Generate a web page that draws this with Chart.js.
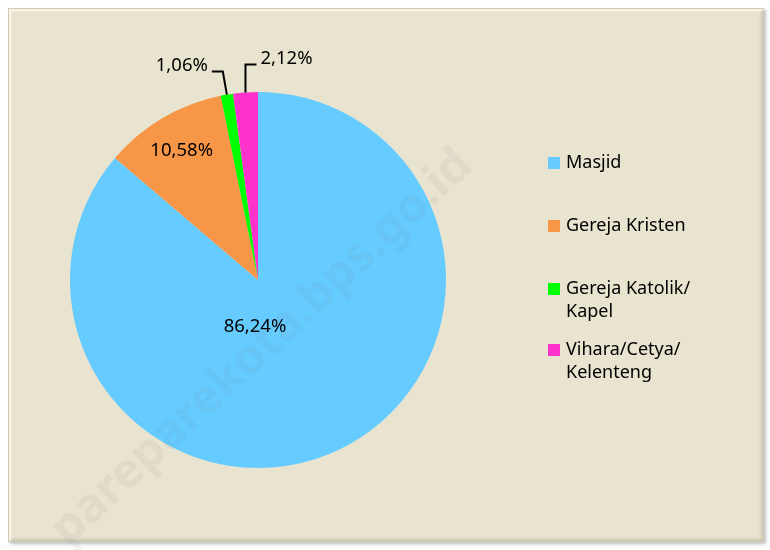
<!DOCTYPE html>
<html>
<head>
<meta charset="utf-8">
<script src="https://cdn.jsdelivr.net/npm/chart.js@4.4.1/dist/chart.umd.min.js"></script>
<style>
    html, body { margin: 0; padding: 0; background: #ffffff; }
    #wrap { position: relative; width: 770px; height: 550px; }
    #frame {
        position: absolute; left: 8px; top: 8px; width: 754px; height: 532px;
        background: #E9E4D0;
        border: 1px solid #cfcab6;
        box-shadow: inset 2px 2px 2px #fbf8ea, inset -2px -2px 3px #c9c5b2, 2px 2px 3px rgba(0,0,0,0.25);
    }
    #chart { position: absolute; left: 0; top: 0; }
</style>
</head>
<body>
<div id="wrap">
    <div id="frame"></div>
    <canvas id="chart" width="770" height="550"></canvas>
</div>
<script>
// Data
const categories = ["Masjid", "Gereja Kristen", "Gereja Katolik/\nKapel", "Vihara/Cetya/\nKelenteng"];
const shares = [86.24, 10.58, 1.06, 2.12];
const colors = ["#66CCFF", "#F79646", "#00FF00", "#FF33CC"];

const FONT = "'Noto Sans', 'DejaVu Sans', sans-serif";

function fmt(v) {
    return v.toFixed(2).replace(".", ",") + "%";
}

// Watermark over the chart, very faint
const watermark = {
    id: "watermark",
    afterDraw(chart) {
        const ctx = chart.ctx;
        ctx.save();
        ctx.translate(262, 348);
        ctx.rotate(-43 * Math.PI / 180);
        ctx.font = "bold 48px " + FONT;
        ctx.fillStyle = "rgba(120,120,120,0.07)";
        ctx.textAlign = "center";
        ctx.textBaseline = "middle";
        ctx.fillText("pareparekota.bps.go.id", 0, 0);
        ctx.restore();
    }
};

// Percentage labels, small slices get a leader line
const sliceLabels = {
    id: "sliceLabels",
    afterDatasetsDraw(chart) {
        const ctx = chart.ctx;
        const meta = chart.getDatasetMeta(0);
        ctx.save();
        ctx.font = "18.5px " + FONT;
        ctx.fillStyle = "#000";
        ctx.textBaseline = "middle";
        meta.data.forEach((arc, i) => {
            const p = arc.getProps(["x", "y", "startAngle", "endAngle", "outerRadius"], true);
            const mid = (p.startAngle + p.endAngle) / 2;
            const txt = fmt(shares[i]);
            if (i === 0) {
                ctx.textAlign = "center";
                ctx.fillText(txt, p.x - 3, p.y + 47);
            } else if (i === 1) {
                const r = p.outerRadius * 0.8;
                ctx.textAlign = "center";
                ctx.fillText(txt, p.x + Math.cos(mid) * r, p.y + Math.sin(mid) * r);
            } else {
                const ex = p.x + Math.cos(mid) * p.outerRadius;
                const ey = p.y + Math.sin(mid) * p.outerRadius;
                const dir = i === 2 ? -1 : 1;
                const kx = ex + (i === 2 ? -4 : 0);
                const ky = ey - (i === 2 ? 23 : 28);
                ctx.strokeStyle = "#000";
                ctx.lineWidth = 2;
                ctx.beginPath();
                ctx.moveTo(ex, ey);
                ctx.lineTo(kx, ky);
                ctx.lineTo(kx + dir * 11, ky);
                ctx.stroke();
                ctx.textAlign = dir < 0 ? "right" : "left";
                ctx.fillText(txt, kx + dir * 15, ky - 6);
            }
        });
        ctx.restore();
    }
};

// Legend on the right
const sideLegend = {
    id: "sideLegend",
    afterDraw(chart) {
        const ctx = chart.ctx;
        const rows = [163, 226, 289, 350];
        ctx.save();
        ctx.font = "18px " + FONT;
        ctx.textBaseline = "middle";
        ctx.textAlign = "left";
        categories.forEach((c, i) => {
            ctx.fillStyle = colors[i];
            ctx.fillRect(548, rows[i] - 6, 12, 12);
            ctx.fillStyle = "#000";
            c.split("\n").forEach((line, j) => {
                ctx.fillText(line, 566, rows[i] + j * 23);
            });
        });
        ctx.restore();
    }
};

new Chart(document.getElementById("chart"), {
    type: "pie",
    data: {
        labels: categories,
        datasets: [{
            data: shares,
            backgroundColor: colors,
            borderWidth: 0
        }]
    },
    options: {
        responsive: false,
        animation: false,
        layout: { padding: { left: 70, right: 324, top: 92, bottom: 82 } },
        plugins: {
            legend: { display: false },
            tooltip: { enabled: false }
        }
    },
    plugins: [watermark, sliceLabels, sideLegend]
});
</script>
</body>
</html>
